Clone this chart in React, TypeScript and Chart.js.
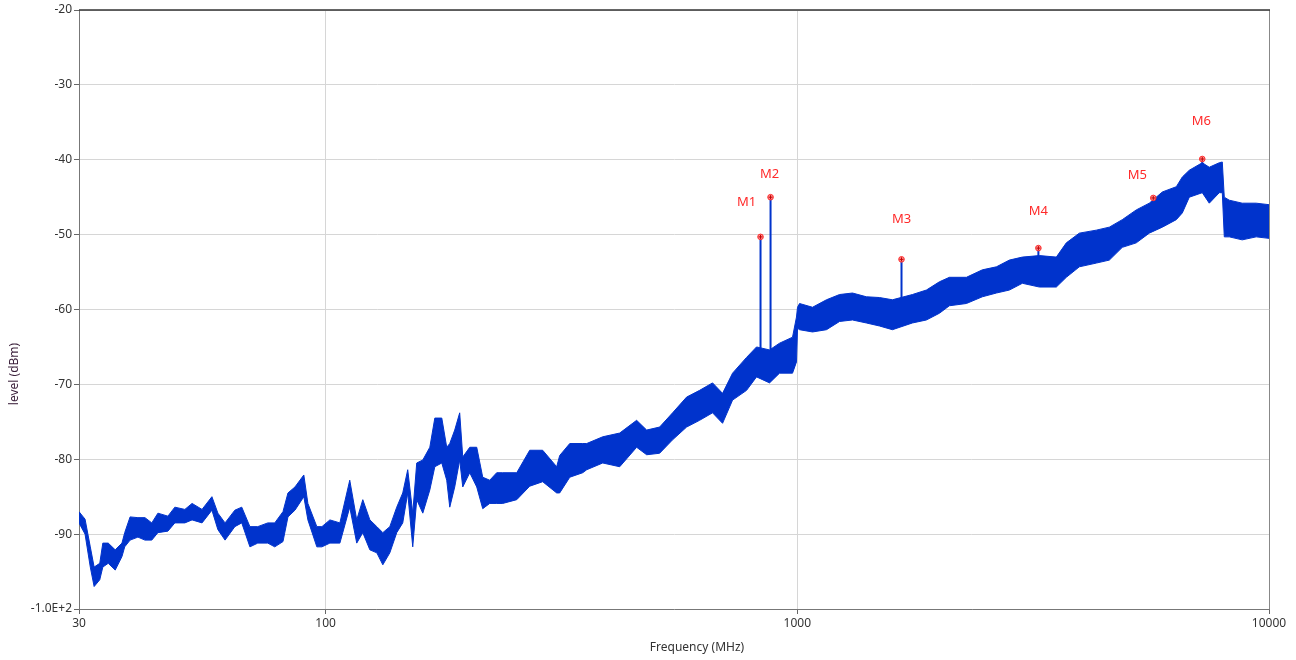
import React, { useEffect, useRef } from 'react';
import { Chart, registerables } from 'chart.js';

Chart.register(...registerables);

// ---- data ----
const freqMHz = [30, 30.9, 31.7, 32.3, 33.2, 33.7, 34.6, 35.8, 37.0, 37.5, 38.5, 40.0, 41.4, 42.8, 44.1, 46.3, 47.9, 50.3, 52.1, 54.7, 57.4, 59.1, 61.2, 64.2, 66.4, 69.1, 71.8, 75.4, 78.0, 81.2, 83.2, 86.1, 89.9, 91.7, 95.8, 98.2, 102.1, 107.2, 112.5, 116.4, 119.9, 124.1, 128.4, 132.2, 136.8, 141.5, 145.7, 149.3, 153.0, 156.0, 160.7, 166.3, 170.4, 176.3, 180.6, 183.3, 187.8, 192.4, 195.3, 202.1, 209.1, 215.3, 222.8, 230.5, 237.4, 254.2, 270.8, 288.5, 308.9, 313.5, 329.3, 350.8, 357.7, 386.8, 420.2, 456.4, 479.3, 510.6, 544.0, 582.5, 620.6, 661.2, 694.2, 729.0, 780.5, 819.5, 873.3, 916.9, 976.9, 996, 1001, 1011, 1077, 1153, 1229, 1309, 1401, 1493, 1591, 1754, 1878, 2001, 2101, 2283, 2468, 2643, 2816, 3000, 3260, 3541, 3718, 3962, 4305, 4587, 4886, 5231, 5574, 5942, 6361, 6550, 6777, 7220, 7471, 7845, 7961, 8039, 8237, 8774, 9394, 10000];

const levelUpper = [-87, -88, -91.7, -94.4, -93.9, -91.2, -91.2, -92.1, -91.2, -89.8, -87.7, -87.8, -87.8, -88.5, -87.2, -87.6, -86.4, -86.7, -85.9, -86.7, -85, -87.2, -88.5, -86.8, -86.4, -89, -89, -88.5, -88.5, -87, -84.5, -83.7, -82.1, -85.9, -89, -89, -88.1, -88.5, -82.8, -88.1, -85.4, -88.1, -89, -89.8, -89, -86.4, -84.5, -81.4, -87.2, -80.5, -80.1, -78.4, -74.5, -74.5, -78.4, -77.9, -76.1, -73.8, -79.7, -78.4, -78.4, -82.4, -82.8, -81.8, -81.8, -81.8, -78.8, -78.8, -81, -79.5, -77.9, -77.9, -77.9, -77, -76.5, -74.8, -76.1, -75.7, -73.8, -71.7, -70.8, -69.8, -71.2, -68.5, -66.4, -65, -65.4, -64.5, -63.7, -61, -59.7, -59.2, -59.7, -58.7, -58, -57.8, -58.3, -58.4, -58.7, -58, -57.4, -56.3, -55.7, -55.7, -54.7, -54.3, -53.4, -53, -52.8, -53, -51.1, -49.8, -49.4, -49, -48, -46.7, -45.8, -44.3, -43.6, -42.3, -41.4, -40.4, -41, -40.4, -40.3, -45, -45.4, -45.8, -45.8, -46];

const levelLower = [-88.5, -90, -94.4, -97, -96.1, -94.4, -93.9, -94.8, -93, -91.7, -90.8, -90.4, -90.8, -90.8, -89.8, -89.6, -88.5, -88.5, -88.1, -88.5, -86.8, -89.4, -90.8, -89, -88.5, -91.7, -91.2, -91.2, -91.7, -91, -87.7, -86.8, -85, -88.1, -91.7, -91.7, -91.2, -91.2, -86.4, -91.2, -89.8, -92.1, -92.5, -94.1, -92.5, -89.8, -88.5, -84.5, -91.7, -85.4, -87.2, -84.1, -81, -80.5, -82.8, -86.4, -83.7, -80.1, -83.7, -81.8, -83.7, -86.6, -85.9, -85.9, -85.9, -85.4, -83.6, -83, -84.5, -84.5, -82.4, -81.8, -81.4, -80.5, -81, -78.4, -79.4, -79.2, -77.4, -75.7, -74.8, -73.8, -75.2, -72.1, -70.8, -69, -69.8, -68.5, -68.5, -67, -62.5, -62.7, -63, -62.7, -61.6, -61.4, -61.8, -62.2, -62.7, -61.8, -61.4, -60.5, -59.5, -59.2, -58.3, -57.8, -57.4, -56.5, -57, -57, -55.7, -54.3, -53.8, -53.4, -51.7, -51.1, -49.8, -49, -48, -47.1, -45, -44.4, -45.8, -44.4, -44.4, -50.3, -50.3, -50.7, -50.3, -50.5];

const markerNames = ['M1', 'M2', 'M3', 'M4', 'M5', 'M6'];
const markerFreq = [835.6, 877.5, 1663, 3244, 5684, 7220];
const markerLevel = [-50.3, -45.0, -53.3, -51.8, -45.1, -39.9];
const markerBase = [-66.0, -67.0, -59.0, -54.5, -47.5, -42.5];

const xTicks = [30, 100, 1000, 10000];
const yTicks = [-100, -90, -80, -70, -60, -50, -40, -30, -20];

// ---- styles ----
const TRACE = 'rgb(0, 51, 204)';
const MARKER = '#ff2a2a';
const FONT = '"Noto Sans", "Open Sans", sans-serif';
const labelOffsets = [[-14, -35], [-1, -23], [0, -40], [0, -37], [-16, -23], [-1, -38]];

const overlayPlugin = {
  id: 'overlay',
  afterDatasetsDraw(chart: any) {
    const { ctx, chartArea, scales } = chart;
    const xs = scales.x;
    const ys = scales.y;
    ctx.save();
    // plot frame
    ctx.lineWidth = 1;
    ctx.strokeStyle = '#888';
    ctx.beginPath();
    ctx.moveTo(chartArea.right + 0.5, chartArea.top);
    ctx.lineTo(chartArea.right + 0.5, chartArea.bottom);
    ctx.stroke();
    ctx.strokeStyle = '#333';
    ctx.lineWidth = 1.5;
    ctx.beginPath();
    ctx.moveTo(chartArea.left, chartArea.top);
    ctx.lineTo(chartArea.right + 1, chartArea.top);
    ctx.stroke();

    // markers
    for (let i = 0; i < markerFreq.length; i++) {
      const px = xs.getPixelForValue(markerFreq[i]);
      const py = ys.getPixelForValue(markerLevel[i]);
      ctx.beginPath();
      ctx.arc(px, py, 2.8, 0, Math.PI * 2);
      ctx.fillStyle = 'rgba(255,140,140,0.9)';
      ctx.fill();
      ctx.lineWidth = 1;
      ctx.strokeStyle = MARKER;
      ctx.stroke();
      ctx.beginPath();
      ctx.moveTo(px - 2, py);
      ctx.lineTo(px + 2, py);
      ctx.moveTo(px, py - 2);
      ctx.lineTo(px, py + 2);
      ctx.strokeStyle = '#c00000';
      ctx.stroke();
      ctx.fillStyle = MARKER;
      ctx.font = `13px ${FONT}`;
      ctx.textAlign = 'center';
      ctx.textBaseline = 'middle';
      ctx.fillText(markerNames[i], px + labelOffsets[i][0], py + labelOffsets[i][1]);
    }

    // axis titles
    ctx.fillStyle = '#333';
    ctx.font = `12px ${FONT}`;
    ctx.textAlign = 'center';
    ctx.textBaseline = 'middle';
    ctx.fillText('Frequency (MHz)', 697, 648);
    ctx.save();
    ctx.translate(15, 374);
    ctx.rotate(-Math.PI / 2);
    ctx.fillStyle = '#3a1f3a';
    ctx.fillText('level (dBm)', 0, 0);
    ctx.restore();
    ctx.restore();
  },
};

export default function App() {
  const ref = useRef<HTMLCanvasElement>(null);

  useEffect(() => {
    if (!ref.current) return;
    const upper = freqMHz.map((f, i) => ({ x: f, y: levelUpper[i] }));
    const lower = freqMHz.map((f, i) => ({ x: f, y: levelLower[i] }));
    const spikeSets = markerFreq.map((f, i) => ({
      data: [{ x: f, y: markerBase[i] }, { x: f, y: markerLevel[i] }],
      borderColor: TRACE,
      borderWidth: 2,
      pointRadius: 0,
      fill: false,
    }));

    const chart = new Chart(ref.current, {
      type: 'line',
      data: {
        datasets: [
          { data: upper, borderColor: TRACE, borderWidth: 1, pointRadius: 0, fill: false, tension: 0 },
          { data: lower, borderColor: TRACE, borderWidth: 1, pointRadius: 0, fill: '-1', backgroundColor: TRACE, tension: 0 },
          ...spikeSets,
        ] as any,
      },
      options: {
        animation: false,
        responsive: false,
        maintainAspectRatio: false,
        devicePixelRatio: 1,
        layout: { padding: { left: 0, right: 27, top: 10, bottom: 0 } },
        plugins: { legend: { display: false }, tooltip: { enabled: false } },
        scales: {
          x: {
            type: 'logarithmic',
            min: 30,
            max: 10000,
            afterBuildTicks: (scale: any) => {
              scale.ticks = xTicks.map((v) => ({ value: v }));
            },
            afterFit: (scale: any) => {
              scale.height = 51;
            },
            ticks: {
              autoSkip: false,
              maxRotation: 0,
              padding: 2,
              color: '#333',
              font: { family: FONT, size: 12 },
              callback: (v: any) => String(v),
            },
            grid: { color: '#d6d6d6', tickColor: '#666', tickLength: 5, lineWidth: 1 },
            border: { display: true, color: '#777', width: 1 },
          },
          y: {
            type: 'linear',
            min: -100,
            max: -20,
            afterBuildTicks: (scale: any) => {
              scale.ticks = yTicks.map((v) => ({ value: v }));
            },
            afterFit: (scale: any) => {
              scale.width = 79;
            },
            ticks: {
              padding: 2,
              color: '#333',
              font: { family: FONT, size: 12 },
              callback: (v: any) => (v === -100 ? '-1.0E+2' : String(v)),
            },
            grid: { color: '#d6d6d6', tickColor: '#666', tickLength: 5, lineWidth: 1 },
            border: { display: true, color: '#777', width: 1 },
          },
        },
      } as any,
      plugins: [overlayPlugin],
    });
    return () => chart.destroy();
  }, []);

  return (
    <div style={{ position: 'fixed', left: 0, top: 0, width: 1296, height: 660, background: '#fff' }}>
      <canvas ref={ref} width={1296} height={660} style={{ width: 1296, height: 660, display: 'block' }} />
    </div>
  );
}
